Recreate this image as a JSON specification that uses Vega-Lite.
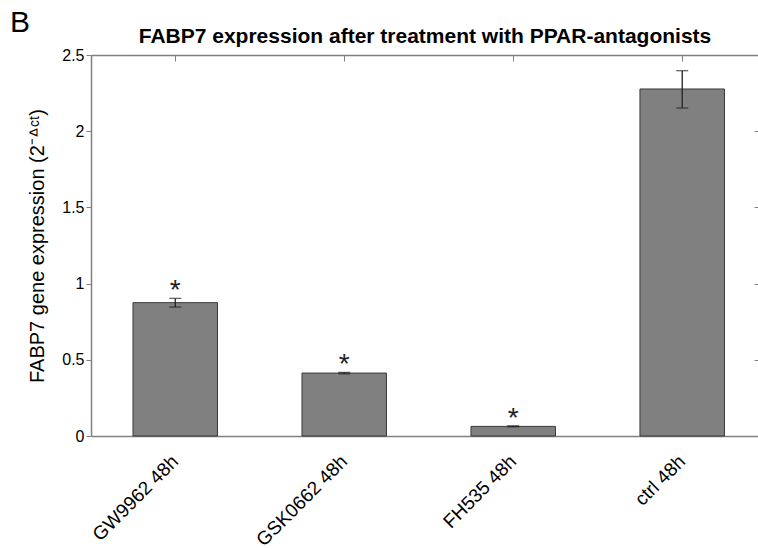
{
  "$schema": "https://vega.github.io/schema/vega-lite/v6.json",
  "width": 667,
  "height": 381,
  "autosize": {"type": "none"},
  "padding": {"left": 91, "top": 55, "right": 0, "bottom": 113},
  "background": "white",
  "config": {
    "font": "Liberation Sans",
    "view": {"stroke": null},
    "axis": {"grid": false, "domainColor": "#808080", "tickColor": "#808080", "labelColor": "#000000", "titleColor": "#000000", "labelFont": "Liberation Sans", "titleFont": "Liberation Sans"}
  },
  "title": {"text": "B", "anchor": "start", "frame": "group", "fontSize": 30, "fontWeight": "normal", "dx": -81, "offset": -12, "color": "#000000"},
  "data": {"values": [
    {"name": "GW9962 48h", "value": 0.875, "lo": 0.846, "hi": 0.903, "sig": "*"},
    {"name": "GSK0662 48h", "value": 0.413, "lo": 0.408, "hi": 0.418, "sig": "*"},
    {"name": "FH535 48h", "value": 0.063, "lo": 0.06, "hi": 0.067, "sig": "*"},
    {"name": "ctrl 48h", "value": 2.277, "lo": 2.152, "hi": 2.397, "sig": ""}
  ]},
  "resolve": {"axis": {"x": "independent", "y": "independent"}},
  "layer": [
    {
      "mark": {"type": "bar", "fill": "#808080", "stroke": "#3a3a3a", "strokeWidth": 1},
      "encoding": {
        "x": {"field": "name", "type": "nominal", "sort": null,
          "scale": {"paddingInner": 0.5, "paddingOuter": 0.2235, "align": 0.556},
          "axis": {"orient": "bottom", "title": null, "labelAngle": -45, "labelAlign": "right", "labelBaseline": "middle", "labelFontSize": 19, "labelPadding": 22, "ticks": false, "domainWidth": 1.5}},
        "y": {"field": "value", "type": "quantitative",
          "scale": {"domain": [0, 2.5], "nice": false, "zero": true},
          "axis": {"orient": "left", "values": [0, 0.5, 1, 1.5, 2, 2.5], "format": ".2~f", "labelFontSize": 16, "tickSize": 5, "labelPadding": 2, "domainWidth": 1.5,
            "title": "FABP7 gene expression (2⁻ᐞᶜᵗ)", "titleFontSize": 20, "titleFontWeight": "normal", "titlePadding": 14}}
      }
    },
    {
      "mark": {"type": "rule", "color": "#222222", "strokeWidth": 1.3},
      "encoding": {
        "x": {"field": "name", "type": "nominal", "sort": null,
          "axis": {"orient": "top", "labels": false, "tickSize": -6, "domainWidth": 1.5,
            "title": "FABP7 expression after treatment with PPAR-antagonists", "titleFontSize": 21, "titleFontWeight": "bold", "titlePadding": 8}},
        "y": {"field": "lo", "type": "quantitative",
          "axis": {"orient": "right", "labels": false, "title": null, "domain": false, "tickSize": -4, "values": [0.5, 1, 1.5, 2]}},
        "y2": {"field": "hi"}
      }
    },
    {
      "mark": {"type": "tick", "orient": "horizontal", "color": "#222222", "size": 12, "thickness": 1.3},
      "encoding": {
        "x": {"field": "name", "type": "nominal", "sort": null, "axis": null},
        "y": {"field": "lo", "type": "quantitative", "axis": null}
      }
    },
    {
      "mark": {"type": "tick", "orient": "horizontal", "color": "#222222", "size": 12, "thickness": 1.3},
      "encoding": {
        "x": {"field": "name", "type": "nominal", "sort": null, "axis": null},
        "y": {"field": "hi", "type": "quantitative", "axis": null}
      }
    },
    {
      "mark": {"type": "text", "fontSize": 28, "baseline": "alphabetic", "dy": 1, "color": "#222222"},
      "encoding": {
        "x": {"field": "name", "type": "nominal", "sort": null, "axis": null},
        "y": {"field": "hi", "type": "quantitative", "axis": null},
        "text": {"field": "sig"}
      }
    }
  ]
}
